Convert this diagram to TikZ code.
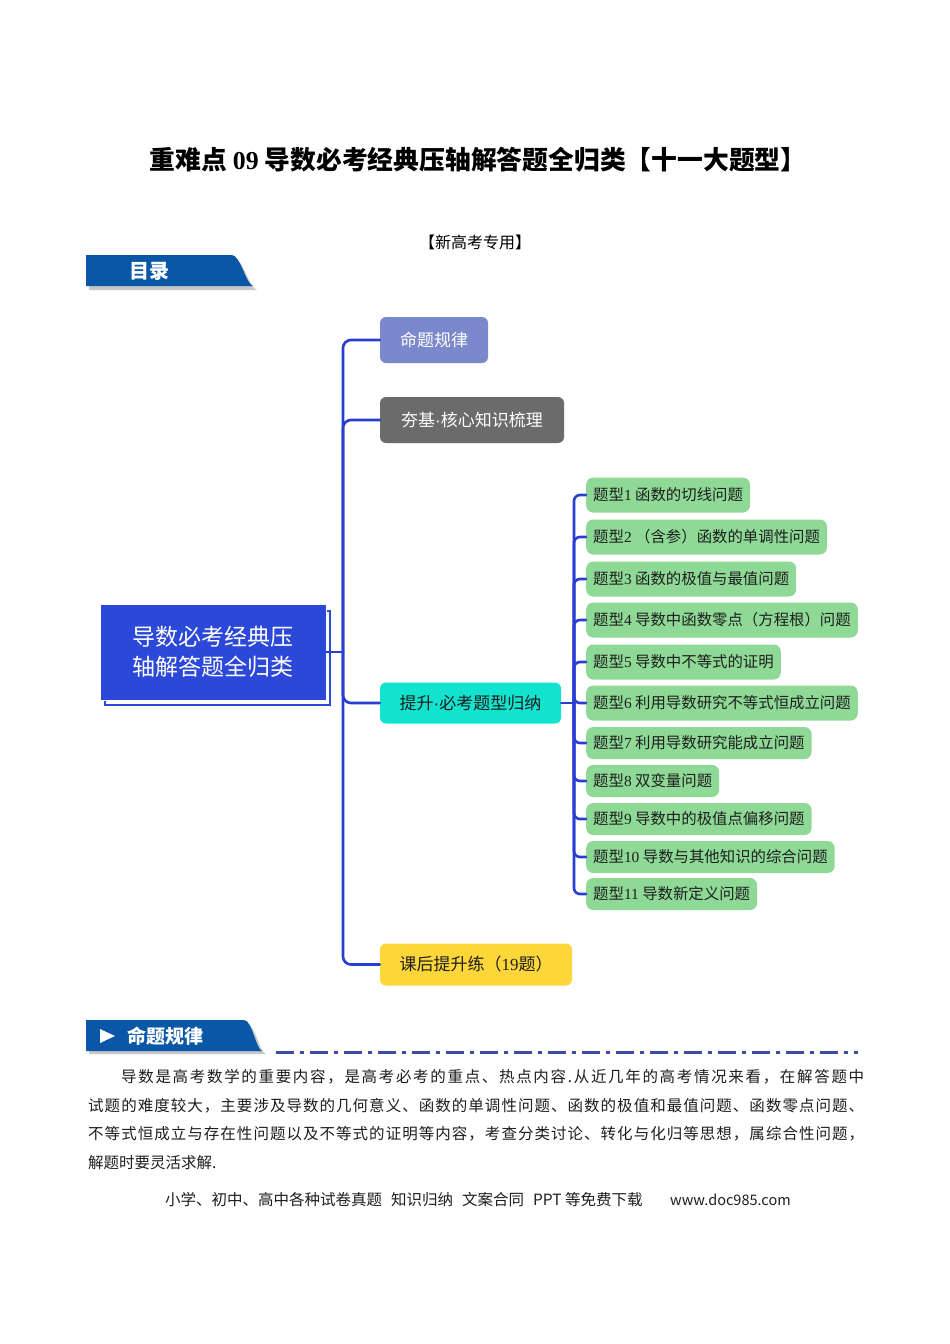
\documentclass[tikz,border=0pt]{standalone}
\usepackage{fontspec}
\setmainfont{Noto Sans CJK SC}
\newfontfamily\ser{Liberation Serif}
\newfontfamily\lsans{Liberation Sans}
\newcommand\nm[1]{{\ser #1}}
\newcommand\mdot{{\lsans\char"00B7}}
\def\sprA#1{#1\sprB}
\def\sprB#1{\ifx\relax#1\else\hfil#1\expandafter\sprB\fi}
\definecolor{bannerblue}{RGB}{11,87,167}
\definecolor{rootblue}{RGB}{44,72,216}
\definecolor{trunkblue}{RGB}{40,62,210}
\definecolor{lav}{RGB}{124,136,204}
\definecolor{darkgray}{RGB}{107,107,107}
\definecolor{turq}{RGB}{18,227,207}
\definecolor{yel}{RGB}{253,214,58}
\definecolor{grn}{RGB}{142,217,150}
\definecolor{dashblue}{RGB}{60,75,163}
\definecolor{txt}{RGB}{30,30,30}
\tikzset{
  conn/.style={trunkblue, line width=2.6pt, line cap=round},
  branch/.style={rounded corners=6pt, inner sep=0pt, font=\fontsize{17}{20}\selectfont},
  leaf/.style={fill=grn, rounded corners=7pt, anchor=west, inner xsep=7pt, inner ysep=0pt,
    text=txt, font=\fontsize{15.4}{18}\selectfont},
  para/.style={anchor=west, inner sep=0pt, text=txt, font=\fontsize{15.5}{18}\selectfont},
}
\begin{document}
\begin{tikzpicture}[x=1pt,y=-1pt]
\useasboundingbox[fill=white] (0,0) rectangle (950,1344);

% title
\node[font=\bfseries\fontsize{25.8}{30}\selectfont, text=black] (title) at (478,160)
  {重难点 {\ser\bfseries 09} 导数必考经典压轴解答题全归类【十一大题型】};
\node[font=\fontsize{16}{20}\selectfont, text=black] (sub) at (475,242) {【新高考专用】};

% banner 目录
\fill[black!40, opacity=.55] (89,259) -- (235,259) .. controls (243,259) and (249,288) .. (257,290) -- (89,290) -- cycle;
\fill[bannerblue] (86,255) -- (232,255) .. controls (240,255) and (246,284) .. (253,286) -- (86,286) -- cycle;
\node[text=white, font=\bfseries\fontsize{20}{24}\selectfont] (mulu) at (149,271) {目录};

% root
\draw[rootblue, line width=2pt, fill=white] (105,611) rectangle (330,705);
\node[fill=rootblue, draw=white, line width=1pt, minimum width=226pt, minimum height=96pt,
  inner sep=0pt, text=white, align=center, font=\fontsize{23}{30}\selectfont] (root) at (213,652)
  {导数必考经典压\\轴解答题全归类};

% branches
\node[branch, fill=lav, text=white, minimum width=108pt, minimum height=46pt] (b1) at (434,340) {命题规律};
\node[branch, fill=darkgray, text=white, minimum width=184pt, minimum height=46pt] (b2) at (472,420) {夯基\mdot 核心知识梳理};
\node[branch, fill=turq, text=txt, minimum width=181pt, minimum height=41pt] (b3) at (470.5,703) {提升\mdot 必考题型归纳};
\node[branch, fill=yel, text=txt, minimum width=192pt, minimum height=42pt] (b4) at (476,964.5) {课后提升练（\nm{19}题）};

\coordinate (J) at (343,652);
\draw[conn] (root.east) -- (J);
\foreach \b in {b1,b2,b3,b4}{
  \draw[conn, rounded corners=8pt] (\b.west) -| (J);
}

% leaves
\node[leaf, minimum height=35pt] (g1) at (586,495) {题型\nm{1} 函数的切线问题};
\node[leaf, minimum height=35pt] (g2) at (586,537) {题型\nm{2} （含参）函数的单调性问题};
\node[leaf, minimum height=35pt] (g3) at (586,579) {题型\nm{3} 函数的极值与最值问题};
\node[leaf, minimum height=35pt] (g4) at (586,620) {题型\nm{4} 导数中函数零点（方程根）问题};
\node[leaf, minimum height=35pt] (g5) at (586,662) {题型\nm{5} 导数中不等式的证明};
\node[leaf, minimum height=35pt] (g6) at (586,703) {题型\nm{6} 利用导数研究不等式恒成立问题};
\node[leaf, minimum height=32pt] (g7) at (586,743) {题型\nm{7} 利用导数研究能成立问题};
\node[leaf, minimum height=32pt] (g8) at (586,781) {题型\nm{8} 双变量问题};
\node[leaf, minimum height=32pt] (g9) at (586,819) {题型\nm{9} 导数中的极值点偏移问题};
\node[leaf, minimum height=32pt] (g10) at (586,857) {题型\nm{10} 导数与其他知识的综合问题};
\node[leaf, minimum height=32pt] (g11) at (586,894) {题型\nm{11} 导数新定义问题};

\coordinate (J2) at (574,703);
\draw[conn] (b3.east) -- (J2);
\foreach \g in {g1,g2,g3,g4,g5,g6,g7,g8,g9,g10,g11}{
  \draw[conn, rounded corners=6pt] (\g.west) -| (J2);
}

% banner 命题规律
\fill[black!40, opacity=.55] (89,1024) -- (247,1024) .. controls (255,1024) and (259,1052) .. (266,1054) -- (89,1054) -- cycle;
\fill[bannerblue] (86,1020) -- (244,1020) .. controls (252,1020) and (256,1049) .. (262,1051) -- (86,1051) -- cycle;
\fill[white] (100,1029) -- (100,1043) -- (115,1036) -- cycle;
\node[text=white, font=\bfseries\fontsize{19}{22}\selectfont] (mtgl) at (165,1036) {命题规律};
\draw[dashblue, line width=3pt, dash pattern=on 18pt off 6pt on 4pt off 6pt] (276,1052) -- (858,1052);

% paragraph
\node[para] (p1) at (121,1077) {\makebox[743pt][s]{\sprA 导数是高考数学的重要内容，是高考必考的重点、热点内容.从近几年的高考情况来看，在解答题中\relax}};
\node[para] (p2) at (88,1106) {\makebox[776pt][s]{\sprA 试题的难度较大，主要涉及导数的几何意义、函数的单调性问题、函数的极值和最值问题、函数零点问题、\relax}};
\node[para] (p3) at (88,1134) {\makebox[776pt][s]{\sprA 不等式恒成立与存在性问题以及不等式的证明等内容，考查分类讨论、转化与化归等思想，属综合性问题，\relax}};
\node[para] (p4) at (88,1163) {解题时要灵活求解.};

% footer
\node[anchor=west, inner sep=0pt, text=txt, font=\fontsize{15.5}{18}\selectfont] (f1) at (165,1200)
  {小学、初中、高中各种试卷真题\hspace{9pt}知识归纳\hspace{9pt}文案合同\hspace{9pt}PPT 等免费下载};
\node[anchor=west, inner sep=0pt, text=txt, font=\fontsize{14.5}{18}\selectfont] (f2) at (670,1200) {www.doc985.com};
\end{tikzpicture}
\end{document}
